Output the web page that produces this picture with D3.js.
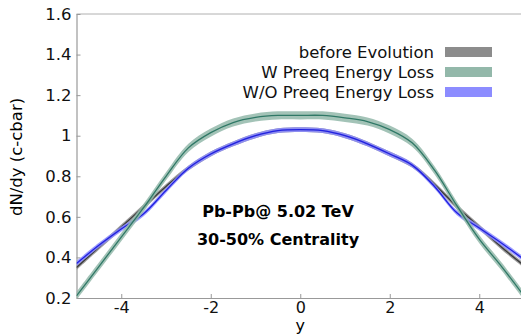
<!DOCTYPE html>
<html>
<head>
<meta charset="utf-8">
<script src="https://cdn.jsdelivr.net/npm/d3@7"></script>
<style>
  body { margin: 0; background: #fff; }
  text { font-family: 'DejaVu Sans', sans-serif; }
</style>
</head>
<body>
<div id="chart"></div>
<script>
const WIDTH = 521
const HEIGHT = 334

// rapidity points
const rapidity = [-5, -4.5, -4, -3.5, -3, -2.5, -2, -1.5, -1, -0.5, 0, 0.5, 1, 1.5, 2, 2.5, 3, 3.5, 4, 4.5, 5]
const beforeEvolution = [0.35, 0.45, 0.55, 0.65, 0.75, 0.84, 0.91, 0.96, 1.0, 1.025, 1.03, 1.025, 1.0, 0.96, 0.91, 0.855, 0.76, 0.65, 0.55, 0.45, 0.36]
const withPreeq = [0.21, 0.355, 0.5, 0.645, 0.8, 0.94, 1.015, 1.065, 1.09, 1.1, 1.1, 1.1, 1.088, 1.07, 1.03, 0.965, 0.83, 0.655, 0.49, 0.355, 0.21]
const withoutPreeq = [0.37, 0.46, 0.54, 0.615, 0.73, 0.84, 0.91, 0.96, 1.0, 1.025, 1.03, 1.025, 1.0, 0.96, 0.91, 0.855, 0.75, 0.62, 0.545, 0.47, 0.39]
const bandHalfWidth = [0.012, 0.02, 0.012]

const seriesNames = ['before Evolution', 'W Preeq Energy Loss', 'W/O Preeq Energy Loss']
const bandColors = ['#8c8c8c', '#93b8aa', '#8c8cff']
const lineColors = ['#3a3a3a', '#2f7866', '#2020e0']

const xTicks = [-4, -2, 0, 2, 4]
const yTicks = [0.2, 0.4, 0.6, 0.8, 1, 1.2, 1.4, 1.6]

const margin = { left: 76.5, top: 14, bottom: 36 }

const svg = d3.select('#chart').append('svg')
  .attr('width', WIDTH)
  .attr('height', HEIGHT)

const x = d3.scaleLinear().domain([-5, 5]).range([margin.left, 524])
const y = d3.scaleLinear().domain([0.2, 1.6]).range([HEIGHT - margin.bottom, margin.top])

svg.append('clipPath').attr('id', 'plot-clip')
  .append('rect')
  .attr('x', margin.left).attr('y', margin.top)
  .attr('width', 524 - margin.left).attr('height', y(0.2) - margin.top)

// frame
svg.append('line')
  .attr('x1', margin.left).attr('x2', WIDTH)
  .attr('y1', margin.top).attr('y2', margin.top)
  .attr('stroke', '#b0b0b0')

// plain hyphen for negatives, like the original plot
const xAxis = svg.append('g')
  .attr('transform', `translate(0,${y(0.2)})`)
  .call(d3.axisBottom(x).tickValues(xTicks).tickSizeInner(-4).tickSizeOuter(0).tickPadding(4).tickFormat(d => String(d)))
const yAxis = svg.append('g')
  .attr('transform', `translate(${margin.left},0)`)
  .call(d3.axisLeft(y).tickValues(yTicks).tickSizeInner(-4).tickSizeOuter(0).tickPadding(5).tickFormat(d => d === 1 ? '1' : d.toFixed(1)))

for (const ax of [xAxis, yAxis]) {
  ax.select('.domain').attr('stroke', '#999').attr('stroke-width', 1.2)
  ax.selectAll('.tick line').attr('stroke', '#999')
  ax.selectAll('.tick text').attr('fill', '#111').attr('font-size', 16.5)
    .attr('font-family', "'DejaVu Sans', sans-serif")
}
xAxis.selectAll('.tick text').attr('font-size', 16)

// axis labels
svg.append('text')
  .attr('x', x(0)).attr('y', 331)
  .attr('text-anchor', 'middle')
  .attr('font-size', 16)
  .text('y')

svg.append('text')
  .attr('transform', `translate(22,157) rotate(-90)`)
  .attr('text-anchor', 'middle')
  .attr('font-size', 16.5)
  .text('dN/dy (c-cbar)')

// curves
const allSeries = [beforeEvolution, withPreeq, withoutPreeq]
const drawOrder = [0, 2, 1]
const plot = svg.append('g').attr('clip-path', 'url(#plot-clip)')

for (const i of drawOrder) {
  const values = allSeries[i]
  const pts = rapidity.map((r, j) => ({ r, v: values[j] }))
  const area = d3.area()
    .x(d => x(d.r))
    .y0(d => y(d.v - bandHalfWidth[i]))
    .y1(d => y(d.v + bandHalfWidth[i]))
    .curve(d3.curveCatmullRom)
  const line = d3.line()
    .x(d => x(d.r))
    .y(d => y(d.v))
    .curve(d3.curveCatmullRom)

  plot.append('path')
    .datum(pts)
    .attr('d', area)
    .attr('fill', bandColors[i])
    .attr('opacity', 0.85)
  plot.append('path')
    .datum(pts)
    .attr('d', line)
    .attr('fill', 'none')
    .attr('stroke', lineColors[i])
    .attr('stroke-width', 1.3)
}

// legend
const legend = svg.append('g')
seriesNames.forEach((name, i) => {
  const base = 58 + i * 20
  legend.append('text')
    .attr('x', 434).attr('y', base)
    .attr('text-anchor', 'end')
    .attr('font-size', 16.5)
    .attr('fill', '#111')
    .text(name)
  legend.append('rect')
    .attr('x', 445).attr('y', base - 11)
    .attr('width', 47).attr('height', 10)
    .attr('fill', bandColors[i])
})

// annotation
const notes = ['Pb-Pb@ 5.02 TeV', '30-50% Centrality']
notes.forEach((t, i) => {
  svg.append('text')
    .attr('x', 278).attr('y', 217 + i * 28)
    .attr('text-anchor', 'middle')
    .attr('font-size', 16)
    .attr('font-weight', 'bold')
    .attr('fill', '#000')
    .text(t)
})
</script>
</body>
</html>
